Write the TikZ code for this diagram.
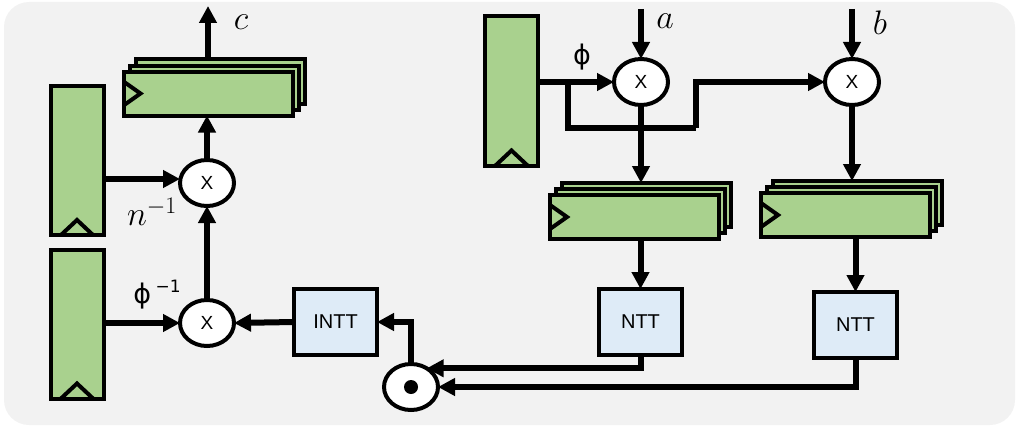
\RequirePackage{fix-cm}
\documentclass[tikz,border=0pt]{standalone}
\usepackage{fontspec}
\setsansfont{Liberation Sans}
\newfontfamily\phifont{DejaVu Sans}
\usetikzlibrary{arrows.meta,calc,shapes.geometric}
\definecolor{bggray}{HTML}{F2F2F2}
\definecolor{reggreen}{HTML}{A9D18E}
\definecolor{boxblue}{HTML}{DEEBF7}
\tikzset{
  vreg/.style={draw=black,fill=reggreen,line width=4pt,minimum width=53pt,minimum height=149pt,inner sep=0pt,outer sep=0pt},
  hreg/.style={draw=black,fill=reggreen,line width=4pt,minimum width=169pt,minimum height=44pt,inner sep=0pt,outer sep=0pt},
  mult/.style={ellipse,draw=black,fill=white,line width=4pt,minimum width=54pt,minimum height=46pt,inner sep=0pt,outer sep=0pt,font=\sffamily\fontsize{19}{19}\selectfont},
  ttbox/.style={draw=black,fill=boxblue,line width=4pt,minimum width=83pt,minimum height=66pt,inner sep=0pt,outer sep=0pt,font=\sffamily\fontsize{20}{20}\selectfont},
  clk/.style={draw=black,line width=4pt,line join=miter},
  conn/.style={draw=black,line width=6pt,-{Triangle[length=17pt,width=17pt]}},
  wire/.style={draw=black,line width=6pt},
  mlabel/.style={inner sep=0pt,font=\fontsize{34}{34}\selectfont},
}
\begin{document}
\begin{tikzpicture}[x=1pt,y=-1pt]
\useasboundingbox (0,0) rectangle (1019,428);
\fill[bggray,rounded corners=25pt] (4,2) rectangle (1015,425);

% vertical registers
\node[vreg] (L1) at (77,160.5) {};
\node[vreg] (L2) at (77,324) {};
\node[vreg] (R) at (511.5,91) {};
\foreach \r in {L1,L2,R}{
  \draw[clk] ([xshift=-16pt]\r.south) -- ([yshift=15pt]\r.south) -- ([xshift=16pt]\r.south);
}

% stacked registers
\node[hreg] (tl3) at (220,81.5) {};
\node[hreg] (tl2) at (214,87.5) {};
\node[hreg] (tl1) at (208,93.5) {};
\node[hreg] (r2c) at (646.5,205) {};
\node[hreg] (r2b) at (640.5,211) {};
\node[hreg] (r2a) at (634.5,217) {};
\node[hreg] (r3c) at (857.5,203) {};
\node[hreg] (r3b) at (851.5,209) {};
\node[hreg] (r3a) at (845.5,215) {};
\foreach \r in {tl1,r2a,r3a}{
  \draw[clk] ([yshift=12pt]\r.west) -- ([xshift=17pt]\r.west) -- ([yshift=-12pt]\r.west);
}

% multipliers
\node[mult] (mA) at (641,82) {X};
\node[mult] (mB) at (852,82) {X};
\node[mult] (m1) at (207,183) {X};
\node[mult] (m2) at (207,323) {X};
\node[mult] (od) at (411,387) {};
\fill (od.center) circle (7pt);

% transform boxes
\node[ttbox] (ntt1) at (640.5,322) {NTT};
\node[ttbox] (ntt2) at (855.5,325) {NTT};
\node[ttbox] (intt) at (335.5,322) {INTT};

% free ends
\coordinate (cOut) at (208,6);
\coordinate (aIn) at (641,9);
\coordinate (bIn) at (852,9);
\coordinate (br1) at (568,128);
\coordinate (br2) at (696,128);

% connectors
\draw[conn] (tl3.north -| tl1.north) -- (cOut);
\draw[conn] (m1.north) -- (m1.north |- tl1.south);
\draw[conn] (m2.north) -- (m1.south);
\draw[conn] ([yshift=4pt]L1.east |- m1.west) -- ([yshift=4pt]m1.west);
\draw[conn] (L2.east |- m2.west) -- (m2.west);
\draw[conn] (intt.west) -- (m2.east);
\draw[conn] (od.north) |- (intt.east);
\draw[conn] (ntt1.south) |- (od.50);
\draw[conn] (ntt2.south) |- (od.east);
\draw[conn] (ntt1.north |- r2a.south) -- (ntt1.north);
\draw[conn] (ntt2.north |- r3a.south) -- (ntt2.north);
\draw[conn] (mA.south) -- (mA.south |- r2c.north);
\draw[conn] (mB.south) -- (mB.south |- r3c.north);
\draw[conn] (aIn) -- (mA.north);
\draw[conn] (bIn) -- (mB.north);
\draw[conn] (R.east |- mA.west) -- (mA.west);
\draw[wire] (br1 |- mA.west) -- (br1) -- (br2);
\draw[conn] (br2) |- (mB.west);

% labels
\node[mlabel] (lc) at (241,22) {$c$};
\node[mlabel] (la) at (665,21) {$a$};
\node[mlabel] (lb) at (880,23) {$b$};
\node[mlabel] (ln) at (152,212) {$n^{-1}$};
\node[inner sep=0pt] (lphi) at (157,295) {\phifont\fontsize{27}{27}\selectfont ϕ\,\raisebox{11pt}{\fontsize{17}{17}\selectfont −1}};
\node[inner sep=0pt] (lphi2) at (582,57) {\phifont\fontsize{27}{27}\selectfont ϕ};
\end{tikzpicture}
\end{document}
